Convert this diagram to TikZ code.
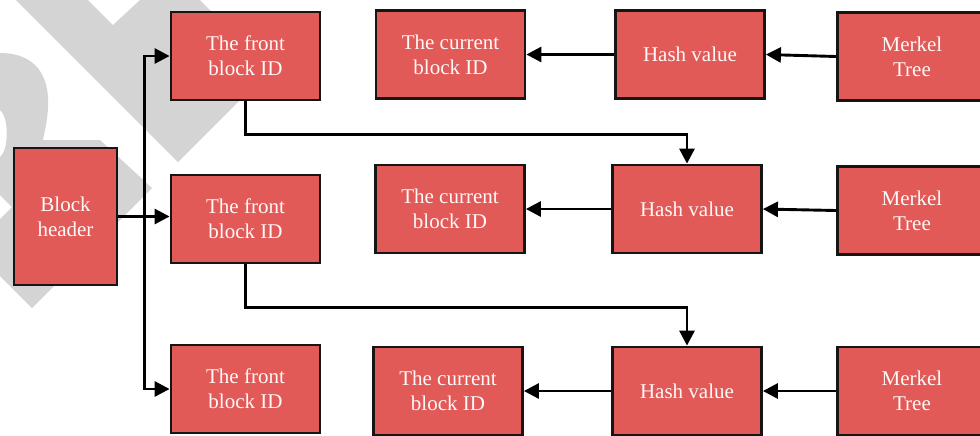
\documentclass[tikz,border=0pt]{standalone}
\usepackage{fontspec}
\setmainfont{Liberation Serif}
\usetikzlibrary{arrows.meta,calc}

\definecolor{boxred}{HTML}{E15A57}
\definecolor{boxline}{HTML}{151515}
\definecolor{shade}{HTML}{D4D4D4}

\begin{document}
\begin{tikzpicture}[
  x=0.5pt, y=-0.5pt,
  >={Triangle[length=7.5pt,width=7.5pt]},
  every node/.style={font=\fontsize{10.5}{12.5}\selectfont},
  field/.style={rectangle,draw=boxline,line width=1.4pt,fill=boxred,
    text=white!96!boxred,align=center,inner sep=2pt,
    minimum width=74.5pt,minimum height=44pt},
  header/.style={field,minimum width=51.5pt,minimum height=68.5pt},
  link/.style={->,line width=1.45pt,draw=black},
  backmark/.style={fill=shade}
]
\useasboundingbox (0,0) rectangle (980,435);
\clip (0,0) rectangle (980,435);

% ------------------------------------------------------------------
% Background mark
% ------------------------------------------------------------------
\fill[backmark] (16,0) -- (88,0) -- (113,25) -- (140,0) -- (200,0)
  -- (270,70) -- (178,162) -- cycle;
\fill[backmark] (0,53) .. controls (35,53) and (50,75) .. (48,108)
  .. controls (47,124) and (44,134) .. (43,140) -- (100,140)
  -- (152,188) -- (32,308) -- (0,276) -- (0,219) -- (12,207)
  -- (0,195) -- (0,157) .. controls (9,150) and (9,117) .. (0,110) -- cycle;

% ------------------------------------------------------------------
% Boxes
% ------------------------------------------------------------------
\node[header] (head) at (65.5,216.5) {Block\\header};

\node[field] (front1) at (245.5,56)  {The front\\block ID};
\node[field] (front2) at (245.5,219) {The front\\block ID};
\node[field] (front3) at (245.5,389) {The front\\block ID};

\node[field] (cur1) at (450.5,54.5) {The current\\block ID};
\node[field] (cur2) at (450,209)    {The current\\block ID};
\node[field] (cur3) at (448,391)    {The current\\block ID};

\node[field] (hash1) at (690,54.5) {Hash value};
\node[field] (hash2) at (687,209)  {Hash value};
\node[field] (hash3) at (687,391)  {Hash value};

\node[field] (tree1) at (912,56.5)  {Merkel\\Tree};
\node[field] (tree2) at (912,210.5) {Merkel\\Tree};
\node[field] (tree3) at (912,391)   {Merkel\\Tree};

% ------------------------------------------------------------------
% Header to the front block IDs
% ------------------------------------------------------------------
\coordinate (trunk) at (144.5,216.5);
\draw[link] (head.east) -- (head.east -| front2.west);
\draw[link] (trunk) |- (front1.west);
\draw[link] (trunk) |- (front3.west);

% ------------------------------------------------------------------
% Front block ID to the next hash
% ------------------------------------------------------------------
\draw[link] (front1.south) -- ++(0,33) -| (hash2.north);
\draw[link] (front2.south) -- ++(0,43) -| (hash3.north);

% ------------------------------------------------------------------
% Merkel tree -> hash -> current block ID
% ------------------------------------------------------------------
\foreach \i in {1,2,3} {
  \draw[link] (tree\i.west) -- (hash\i.east);
  \draw[link] (hash\i.west) -- (cur\i.east);
}

\end{tikzpicture}
\end{document}
